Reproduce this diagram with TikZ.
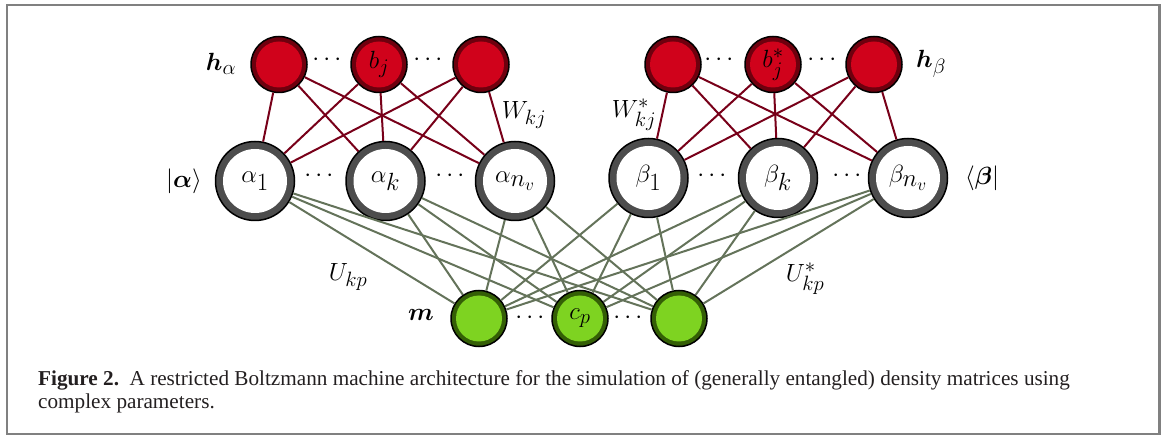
\documentclass[tikz,border=0pt]{standalone}
\usepackage{fontspec}
\usepackage{amsmath}
\newfontfamily\capfont{Liberation Serif}
\definecolor{redin}{RGB}{208,2,27}
\definecolor{redring}{RGB}{110,0,14}
\definecolor{redge}{RGB}{120,0,25}
\definecolor{visring}{RGB}{77,77,77}
\definecolor{grin}{RGB}{126,211,33}
\definecolor{grring}{RGB}{52,95,6}
\definecolor{gedge}{RGB}{100,115,90}
\definecolor{framegray}{RGB}{128,128,128}
\definecolor{captext}{RGB}{35,31,32}
\tikzset{
  lbl/.style={font=\fontsize{28}{34}\selectfont, inner sep=0pt},
  biglbl/.style={font=\fontsize{32}{38}\selectfont, inner sep=0pt},
  vis/.style={circle, draw=black, line width=1.5pt, fill=visring, minimum size=79pt, inner sep=0pt,
    path picture={\fill[white] (path picture bounding box.center) circle (32pt);},
    font=\fontsize{33}{40}\selectfont},
  hid/.style={circle, draw=black, line width=1.5pt, fill=redring, minimum size=56pt, inner sep=0pt,
    path picture={\fill[redin] (path picture bounding box.center) circle (23pt);},
    font=\fontsize{28}{32}\selectfont},
  grn/.style={circle, draw=black, line width=1.5pt, fill=grring, minimum size=56pt, inner sep=0pt,
    path picture={\fill[grin] (path picture bounding box.center) circle (23pt);},
    font=\fontsize{28}{32}\selectfont},
  rline/.style={draw=redge, line width=2pt},
  gline/.style={draw=gedge, line width=2pt},
  dotsl/.style={font=\fontsize{28}{34}\selectfont, inner sep=0pt},
  framebox/.style={draw=framegray, line width=2.6pt},
  captionline/.style={font=\capfont\fontsize{21.2}{24}\selectfont, text=captext, inner sep=0pt, anchor=base west}
}
\begin{document}
\begin{tikzpicture}[x=1pt,y=-1pt]
\useasboundingbox (0,0) rectangle (1165,438);
\draw[framebox] (7,5) rectangle (1159.5,433.8);
% hidden alpha
\node[hid] (ha1) at (279,64.5) {};
\node[hid] (ha2) at (379,64.5) {$b_j$};
\node[hid] (ha3) at (481,64.5) {};
% hidden beta
\node[hid] (hb1) at (673,64.5) {};
\node[hid] (hb2) at (773,64.5) {$b_j^*$};
\node[hid] (hb3) at (874,64.5) {};
% visible
\node[vis] (a1) at (255,181) {$\alpha_1$};
\node[vis] (ak) at (385.5,181) {$\alpha_k$};
\node[vis] (an) at (515,181) {$\alpha_{n_v}$};
\node[vis] (b1) at (648.5,178) {$\beta_1$};
\node[vis] (bk) at (778,178) {$\beta_k$};
\node[vis] (bn) at (908,178) {$\beta_{n_v}$};
% green
\node[grn] (g1) at (479,318.5) {};
\node[grn] (g2) at (580,318.5) {$c_p$};
\node[grn] (g3) at (679,318.5) {};
% edges
\foreach \h in {ha1,ha2,ha3}{\foreach \v in {a1,ak,an}{\draw[rline] (\h) -- (\v);}}
\foreach \h in {hb1,hb2,hb3}{\foreach \v in {b1,bk,bn}{\draw[rline] (\h) -- (\v);}}
\foreach \g in {g1,g2,g3}{\foreach \v in {a1,ak,an,b1,bk,bn}{\draw[gline] (\v) -- (\g);}}
% labels
\node[biglbl] (hal) at (221,64) {$\boldsymbol{h}_\alpha$};
\node[biglbl] (hbl) at (931,64) {$\boldsymbol{h}_\beta$};
\node[lbl] (wl) at (524,115) {$W_{kj}$};
\node[lbl] (wsl) at (634,115) {$W^*_{kj}$};
\node[biglbl] (al) at (184,181) {$|\boldsymbol{\alpha}\rangle$};
\node[biglbl] (bl) at (982,178) {$\langle\boldsymbol{\beta}|$};
\node[lbl] (ul) at (348,277) {$U_{kp}$};
\node[lbl] (usl) at (805,279) {$U^*_{kp}$};
\node[biglbl] (ml) at (421,315) {$\boldsymbol{m}$};
% dots
\node[dotsl] (d1) at (329,60) {$\cdots$};
\node[dotsl] (d2) at (430,60) {$\cdots$};
\node[dotsl] (d3) at (721,60) {$\cdots$};
\node[dotsl] (d4) at (824,60) {$\cdots$};
\node[dotsl] (d5) at (321,176) {$\cdots$};
\node[dotsl] (d6) at (452,176) {$\cdots$};
\node[dotsl] (d7) at (714,176) {$\cdots$};
\node[dotsl] (d8) at (849,176) {$\cdots$};
\node[dotsl] (d9) at (532,318) {$\cdots$};
\node[dotsl] (d10) at (630,318) {$\cdots$};
% caption
\node[captionline] (c1) at (38,385) {\textbf{Figure 2.}\hspace{0.5em}A restricted Boltzmann machine architecture for the simulation of (generally entangled) density matrices using};
\node[captionline] (c2) at (38,408) {complex parameters.};
\end{tikzpicture}
\end{document}
